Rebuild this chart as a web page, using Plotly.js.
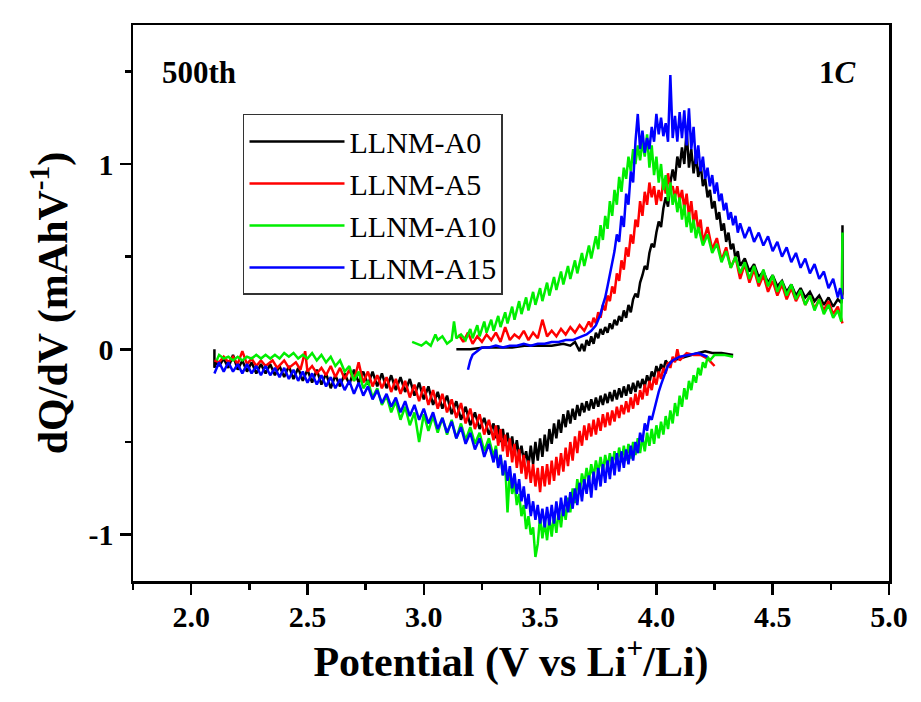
<!DOCTYPE html>
<html>
<head>
<meta charset="utf-8">
<script src="https://cdn.plot.ly/plotly-3.0.1.min.js"></script>
<style>html,body{margin:0;padding:0;background:#fff;}#chart{width:921px;height:702px;}</style>
</head>
<body>
<div id="chart"></div>
<script>
// Series names and colours
const seriesNames = ["LLNM-A0", "LLNM-A5", "LLNM-A10", "LLNM-A15"];
const seriesColors = ["#000000", "#ff0000", "#00ee00", "#0000ff"];

// [potential V, dQ/dV] — charge branch (upper) and discharge branch (lower)
const a0Charge = [[3.14,0.00],[3.20,0.00],[3.26,0.01],[3.32,0.01],[3.38,0.01],[3.44,0.02],[3.50,0.02],[3.55,0.02],[3.60,0.03],[3.63,0.02],[3.65,0.04],[3.67,-0.01],[3.68,0.03],[3.69,-0.01],[3.70,0.05],[3.71,0.02],[3.72,0.07],[3.73,0.03],[3.74,0.09],[3.75,0.06],[3.76,0.11],[3.77,0.08],[3.78,0.12],[3.79,0.09],[3.80,0.14],[3.81,0.11],[3.82,0.16],[3.83,0.13],[3.84,0.18],[3.85,0.15],[3.86,0.21],[3.87,0.17],[3.88,0.24],[3.89,0.20],[3.90,0.27],[3.91,0.30],[3.92,0.28],[3.93,0.36],[3.94,0.40],[3.95,0.45],[3.96,0.43],[3.97,0.52],[3.98,0.57],[3.99,0.55],[4.00,0.63],[4.01,0.69],[4.02,0.66],[4.03,0.76],[4.04,0.82],[4.05,0.77],[4.06,0.90],[4.07,0.97],[4.08,0.91],[4.09,1.04],[4.10,0.98],[4.11,1.09],[4.12,1.00],[4.13,1.18],[4.14,0.98],[4.15,1.08],[4.16,0.95],[4.17,1.05],[4.18,0.93],[4.19,1.00],[4.20,0.88],[4.21,0.92],[4.22,0.82],[4.23,0.86],[4.24,0.76],[4.25,0.80],[4.26,0.70],[4.27,0.74],[4.28,0.64],[4.29,0.68],[4.30,0.58],[4.31,0.63],[4.32,0.54],[4.33,0.57],[4.34,0.49],[4.35,0.53],[4.36,0.45],[4.38,0.49],[4.40,0.42],[4.42,0.46],[4.44,0.39],[4.46,0.42],[4.48,0.36],[4.50,0.40],[4.52,0.34],[4.54,0.37],[4.56,0.31],[4.58,0.35],[4.60,0.29],[4.62,0.33],[4.64,0.28],[4.66,0.31],[4.68,0.26],[4.70,0.29],[4.72,0.24],[4.74,0.28],[4.76,0.23],[4.78,0.27],[4.795,0.25],[4.80,0.30],[4.80,0.67]];
const a0Discharge = [[4.33,-0.03],[4.28,-0.02],[4.24,-0.02],[4.21,-0.01],[4.18,-0.02],[4.15,-0.03],[4.12,-0.04],[4.09,-0.05],[4.07,-0.06],[4.05,-0.08],[4.04,-0.06],[4.03,-0.11],[4.02,-0.08],[4.01,-0.13],[4.00,-0.09],[3.99,-0.15],[3.98,-0.12],[3.97,-0.18],[3.96,-0.14],[3.95,-0.20],[3.94,-0.16],[3.93,-0.21],[3.92,-0.17],[3.91,-0.23],[3.90,-0.18],[3.89,-0.24],[3.88,-0.19],[3.87,-0.25],[3.86,-0.20],[3.85,-0.26],[3.84,-0.21],[3.83,-0.27],[3.82,-0.22],[3.81,-0.28],[3.80,-0.23],[3.79,-0.29],[3.78,-0.24],[3.77,-0.30],[3.76,-0.25],[3.75,-0.31],[3.74,-0.26],[3.73,-0.32],[3.72,-0.27],[3.71,-0.33],[3.70,-0.28],[3.69,-0.34],[3.68,-0.29],[3.67,-0.36],[3.66,-0.30],[3.65,-0.38],[3.64,-0.32],[3.63,-0.40],[3.62,-0.33],[3.61,-0.42],[3.60,-0.35],[3.59,-0.45],[3.58,-0.38],[3.57,-0.48],[3.56,-0.40],[3.55,-0.51],[3.54,-0.43],[3.53,-0.55],[3.52,-0.46],[3.51,-0.58],[3.50,-0.48],[3.49,-0.60],[3.48,-0.50],[3.47,-0.62],[3.46,-0.52],[3.45,-0.63],[3.44,-0.55],[3.43,-0.60],[3.42,-0.52],[3.41,-0.58],[3.40,-0.49],[3.39,-0.57],[3.38,-0.47],[3.37,-0.54],[3.36,-0.45],[3.35,-0.52],[3.34,-0.43],[3.33,-0.50],[3.32,-0.41],[3.31,-0.48],[3.30,-0.40],[3.28,-0.46],[3.26,-0.37],[3.24,-0.43],[3.22,-0.34],[3.20,-0.41],[3.18,-0.31],[3.16,-0.38],[3.14,-0.28],[3.12,-0.35],[3.10,-0.25],[3.08,-0.32],[3.06,-0.23],[3.04,-0.30],[3.02,-0.20],[3.00,-0.27],[2.98,-0.18],[2.96,-0.25],[2.94,-0.16],[2.92,-0.23],[2.90,-0.15],[2.88,-0.22],[2.86,-0.14],[2.84,-0.21],[2.82,-0.13],[2.80,-0.20],[2.78,-0.12],[2.76,-0.19],[2.74,-0.12],[2.72,-0.18],[2.70,-0.11],[2.68,-0.19],[2.66,-0.13],[2.64,-0.20],[2.62,-0.14],[2.60,-0.21],[2.58,-0.13],[2.56,-0.19],[2.54,-0.11],[2.52,-0.18],[2.50,-0.11],[2.48,-0.17],[2.46,-0.10],[2.44,-0.16],[2.42,-0.09],[2.40,-0.15],[2.38,-0.09],[2.36,-0.14],[2.34,-0.08],[2.32,-0.13],[2.30,-0.08],[2.28,-0.13],[2.26,-0.07],[2.24,-0.12],[2.22,-0.06],[2.20,-0.11],[2.18,-0.03],[2.16,-0.10],[2.14,-0.05],[2.12,-0.09],[2.11,-0.06],[2.10,-0.10],[2.10,0.00]];

const a5Charge = [[3.15,0.08],[3.17,0.04],[3.19,0.09],[3.21,0.03],[3.23,0.07],[3.25,0.04],[3.27,0.08],[3.29,0.05],[3.31,0.09],[3.33,0.04],[3.35,0.12],[3.37,0.05],[3.39,0.08],[3.41,0.06],[3.43,0.10],[3.45,0.05],[3.47,0.09],[3.49,0.06],[3.51,0.16],[3.53,0.07],[3.55,0.10],[3.57,0.07],[3.59,0.11],[3.61,0.08],[3.63,0.12],[3.65,0.09],[3.67,0.13],[3.69,0.10],[3.71,0.15],[3.72,0.12],[3.73,0.17],[3.74,0.14],[3.75,0.20],[3.76,0.17],[3.77,0.24],[3.78,0.21],[3.79,0.29],[3.80,0.26],[3.81,0.34],[3.82,0.30],[3.83,0.41],[3.84,0.37],[3.85,0.48],[3.86,0.43],[3.87,0.55],[3.88,0.50],[3.89,0.62],[3.90,0.57],[3.91,0.70],[3.92,0.66],[3.93,0.80],[3.94,0.72],[3.95,0.85],[3.96,0.78],[3.97,0.90],[3.98,0.82],[3.99,0.88],[4.00,0.78],[4.01,0.86],[4.02,0.80],[4.03,0.92],[4.04,0.84],[4.05,0.95],[4.06,0.86],[4.07,0.88],[4.08,0.82],[4.09,0.88],[4.10,0.80],[4.11,0.86],[4.12,0.76],[4.13,0.84],[4.14,0.72],[4.15,0.80],[4.16,0.68],[4.17,0.75],[4.18,0.64],[4.19,0.70],[4.20,0.58],[4.22,0.66],[4.24,0.54],[4.26,0.60],[4.28,0.48],[4.30,0.55],[4.32,0.44],[4.34,0.50],[4.36,0.38],[4.38,0.46],[4.40,0.36],[4.42,0.43],[4.44,0.34],[4.46,0.40],[4.48,0.31],[4.50,0.37],[4.52,0.29],[4.54,0.35],[4.56,0.27],[4.58,0.33],[4.60,0.26],[4.62,0.31],[4.64,0.24],[4.66,0.29],[4.68,0.22],[4.70,0.27],[4.72,0.21],[4.74,0.26],[4.76,0.19],[4.78,0.23],[4.80,0.14]];
const a5Discharge = [[4.25,-0.09],[4.22,-0.05],[4.19,-0.03],[4.16,-0.03],[4.13,-0.02],[4.10,-0.06],[4.09,0.00],[4.08,-0.07],[4.07,-0.04],[4.06,-0.10],[4.05,-0.07],[4.04,-0.13],[4.03,-0.10],[4.02,-0.16],[4.01,-0.12],[4.00,-0.19],[3.99,-0.15],[3.98,-0.22],[3.97,-0.17],[3.96,-0.25],[3.95,-0.19],[3.94,-0.27],[3.93,-0.22],[3.92,-0.30],[3.91,-0.24],[3.90,-0.32],[3.89,-0.26],[3.88,-0.34],[3.87,-0.28],[3.86,-0.35],[3.85,-0.30],[3.84,-0.37],[3.83,-0.31],[3.82,-0.39],[3.81,-0.33],[3.80,-0.41],[3.79,-0.34],[3.78,-0.42],[3.77,-0.35],[3.76,-0.44],[3.75,-0.37],[3.74,-0.46],[3.73,-0.38],[3.72,-0.47],[3.71,-0.40],[3.70,-0.49],[3.69,-0.41],[3.68,-0.52],[3.67,-0.44],[3.66,-0.56],[3.65,-0.47],[3.64,-0.60],[3.63,-0.50],[3.62,-0.63],[3.61,-0.53],[3.60,-0.66],[3.59,-0.56],[3.58,-0.68],[3.57,-0.58],[3.56,-0.71],[3.55,-0.60],[3.54,-0.73],[3.53,-0.62],[3.52,-0.74],[3.51,-0.63],[3.50,-0.77],[3.49,-0.64],[3.48,-0.74],[3.47,-0.62],[3.46,-0.72],[3.45,-0.60],[3.44,-0.70],[3.43,-0.57],[3.42,-0.67],[3.41,-0.54],[3.40,-0.64],[3.39,-0.51],[3.38,-0.61],[3.37,-0.48],[3.36,-0.58],[3.35,-0.46],[3.34,-0.55],[3.33,-0.43],[3.32,-0.52],[3.31,-0.41],[3.30,-0.49],[3.28,-0.38],[3.26,-0.46],[3.24,-0.35],[3.22,-0.43],[3.20,-0.32],[3.18,-0.40],[3.16,-0.29],[3.14,-0.37],[3.12,-0.27],[3.10,-0.34],[3.08,-0.24],[3.06,-0.32],[3.04,-0.22],[3.02,-0.30],[3.00,-0.20],[2.98,-0.28],[2.96,-0.19],[2.94,-0.26],[2.92,-0.17],[2.90,-0.24],[2.88,-0.16],[2.86,-0.23],[2.84,-0.15],[2.82,-0.21],[2.80,-0.14],[2.78,-0.20],[2.76,-0.12],[2.74,-0.18],[2.72,-0.07],[2.70,-0.17],[2.68,-0.11],[2.66,-0.16],[2.64,-0.10],[2.62,-0.15],[2.60,-0.09],[2.58,-0.14],[2.56,-0.10],[2.54,-0.13],[2.52,-0.09],[2.50,-0.12],[2.49,-0.01],[2.47,-0.11],[2.45,-0.07],[2.42,-0.10],[2.40,-0.06],[2.37,-0.10],[2.35,-0.06],[2.32,-0.09],[2.30,-0.06],[2.28,-0.09],[2.26,-0.05],[2.24,-0.08],[2.22,-0.01],[2.20,-0.08],[2.18,-0.04],[2.16,-0.07],[2.14,-0.04],[2.12,-0.07],[2.10,-0.06]];

const a10Charge = [[2.95,0.04],[2.97,0.03],[2.99,0.02],[3.01,0.04],[3.03,0.02],[3.05,0.08],[3.06,0.05],[3.08,0.07],[3.10,0.03],[3.12,0.05],[3.13,0.15],[3.14,0.06],[3.16,0.08],[3.18,0.05],[3.20,0.11],[3.21,0.06],[3.23,0.13],[3.24,0.07],[3.26,0.15],[3.27,0.09],[3.29,0.16],[3.30,0.10],[3.32,0.18],[3.33,0.12],[3.35,0.20],[3.36,0.14],[3.38,0.23],[3.39,0.16],[3.41,0.26],[3.42,0.19],[3.44,0.28],[3.45,0.21],[3.47,0.31],[3.48,0.24],[3.50,0.33],[3.51,0.26],[3.53,0.36],[3.54,0.29],[3.56,0.39],[3.57,0.32],[3.59,0.42],[3.60,0.35],[3.62,0.45],[3.63,0.38],[3.65,0.48],[3.66,0.41],[3.68,0.52],[3.69,0.45],[3.71,0.56],[3.72,0.49],[3.74,0.61],[3.75,0.54],[3.76,0.67],[3.77,0.59],[3.78,0.72],[3.79,0.65],[3.80,0.80],[3.81,0.72],[3.82,0.86],[3.83,0.78],[3.84,0.93],[3.85,0.85],[3.86,0.98],[3.87,0.92],[3.88,1.04],[3.89,0.96],[3.90,1.08],[3.91,1.00],[3.92,1.10],[3.93,1.02],[3.94,1.12],[3.95,1.04],[3.96,1.16],[3.97,0.98],[3.98,1.10],[3.99,0.94],[4.00,1.04],[4.01,0.90],[4.02,1.00],[4.03,0.86],[4.04,0.94],[4.05,0.80],[4.06,0.90],[4.07,0.78],[4.08,0.84],[4.09,0.74],[4.10,0.82],[4.11,0.70],[4.12,0.78],[4.13,0.66],[4.14,0.74],[4.15,0.63],[4.16,0.70],[4.17,0.60],[4.18,0.66],[4.20,0.56],[4.22,0.62],[4.24,0.52],[4.26,0.57],[4.28,0.47],[4.30,0.53],[4.32,0.44],[4.34,0.50],[4.36,0.41],[4.38,0.47],[4.40,0.38],[4.42,0.45],[4.44,0.36],[4.46,0.43],[4.48,0.34],[4.50,0.40],[4.52,0.31],[4.54,0.37],[4.56,0.29],[4.58,0.35],[4.60,0.27],[4.62,0.32],[4.64,0.24],[4.66,0.29],[4.68,0.21],[4.70,0.27],[4.72,0.19],[4.74,0.24],[4.76,0.17],[4.78,0.21],[4.795,0.15],[4.80,0.63]];
const a10Discharge = [[4.33,-0.04],[4.29,-0.03],[4.25,-0.03],[4.23,-0.06],[4.22,-0.04],[4.21,-0.10],[4.20,-0.07],[4.19,-0.14],[4.18,-0.10],[4.17,-0.18],[4.16,-0.14],[4.15,-0.22],[4.14,-0.17],[4.13,-0.27],[4.12,-0.21],[4.11,-0.31],[4.10,-0.25],[4.09,-0.36],[4.08,-0.29],[4.07,-0.40],[4.06,-0.33],[4.05,-0.43],[4.04,-0.36],[4.03,-0.46],[4.02,-0.39],[4.01,-0.48],[4.00,-0.41],[3.99,-0.51],[3.98,-0.43],[3.97,-0.52],[3.96,-0.45],[3.95,-0.55],[3.94,-0.47],[3.93,-0.56],[3.92,-0.48],[3.91,-0.57],[3.90,-0.50],[3.89,-0.59],[3.88,-0.51],[3.87,-0.60],[3.86,-0.52],[3.85,-0.61],[3.84,-0.53],[3.83,-0.62],[3.82,-0.55],[3.81,-0.63],[3.80,-0.56],[3.79,-0.64],[3.78,-0.57],[3.77,-0.66],[3.76,-0.58],[3.75,-0.67],[3.74,-0.60],[3.73,-0.69],[3.72,-0.62],[3.71,-0.71],[3.70,-0.64],[3.69,-0.73],[3.68,-0.67],[3.67,-0.78],[3.66,-0.70],[3.65,-0.83],[3.64,-0.75],[3.63,-0.88],[3.62,-0.80],[3.61,-0.92],[3.60,-0.84],[3.59,-0.96],[3.58,-0.87],[3.57,-0.99],[3.56,-0.89],[3.55,-1.01],[3.54,-0.91],[3.53,-1.03],[3.52,-0.93],[3.51,-1.02],[3.50,-0.90],[3.49,-1.05],[3.48,-1.12],[3.47,-0.96],[3.46,-1.00],[3.45,-0.90],[3.44,-0.97],[3.43,-0.84],[3.42,-0.90],[3.41,-0.78],[3.40,-0.84],[3.39,-0.72],[3.38,-0.78],[3.37,-0.66],[3.36,-0.88],[3.35,-0.62],[3.34,-0.68],[3.33,-0.57],[3.32,-0.63],[3.31,-0.52],[3.30,-0.58],[3.28,-0.48],[3.26,-0.55],[3.24,-0.45],[3.22,-0.51],[3.20,-0.42],[3.18,-0.49],[3.16,-0.40],[3.14,-0.48],[3.12,-0.38],[3.10,-0.46],[3.08,-0.37],[3.06,-0.45],[3.04,-0.36],[3.02,-0.44],[3.00,-0.35],[2.98,-0.50],[2.96,-0.34],[2.94,-0.41],[2.92,-0.31],[2.90,-0.38],[2.88,-0.28],[2.86,-0.34],[2.84,-0.25],[2.82,-0.30],[2.80,-0.21],[2.78,-0.26],[2.76,-0.17],[2.74,-0.21],[2.72,-0.12],[2.70,-0.17],[2.68,-0.09],[2.66,-0.12],[2.64,-0.06],[2.62,-0.09],[2.60,-0.04],[2.58,-0.07],[2.56,-0.03],[2.54,-0.06],[2.52,-0.02],[2.50,-0.05],[2.48,-0.03],[2.46,-0.05],[2.44,-0.02],[2.42,-0.04],[2.40,-0.02],[2.38,-0.05],[2.36,-0.03],[2.34,-0.05],[2.32,-0.03],[2.30,-0.05],[2.28,-0.03],[2.26,-0.05],[2.24,-0.04],[2.22,-0.06],[2.20,-0.04],[2.18,-0.06],[2.16,-0.04],[2.14,-0.05],[2.12,-0.03],[2.11,-0.06]];

const a15Charge = [[3.19,-0.11],[3.20,-0.06],[3.21,-0.03],[3.23,-0.01],[3.25,0.01],[3.28,0.01],[3.31,0.02],[3.34,0.01],[3.37,0.02],[3.40,0.02],[3.43,0.03],[3.46,0.02],[3.49,0.03],[3.52,0.03],[3.55,0.04],[3.58,0.04],[3.61,0.05],[3.64,0.05],[3.66,0.06],[3.68,0.07],[3.70,0.08],[3.72,0.10],[3.74,0.13],[3.75,0.16],[3.76,0.19],[3.77,0.24],[3.78,0.28],[3.79,0.34],[3.80,0.40],[3.81,0.47],[3.82,0.53],[3.83,0.62],[3.84,0.58],[3.85,0.72],[3.86,0.66],[3.87,0.84],[3.88,0.78],[3.89,0.96],[3.90,0.90],[3.91,1.12],[3.92,1.27],[3.93,1.08],[3.94,1.18],[3.95,1.06],[3.96,1.14],[3.97,1.08],[3.98,1.20],[3.99,1.12],[4.00,1.27],[4.01,1.16],[4.02,1.25],[4.03,1.15],[4.04,1.22],[4.05,1.12],[4.06,1.48],[4.07,1.14],[4.08,1.26],[4.09,1.12],[4.10,1.28],[4.11,1.14],[4.12,1.29],[4.13,1.10],[4.14,1.30],[4.15,1.08],[4.16,1.20],[4.17,1.00],[4.18,1.10],[4.19,0.96],[4.20,1.04],[4.21,0.92],[4.22,0.98],[4.23,0.88],[4.24,0.94],[4.25,0.84],[4.26,0.90],[4.27,0.80],[4.28,0.84],[4.29,0.75],[4.30,0.79],[4.31,0.70],[4.32,0.74],[4.33,0.67],[4.34,0.72],[4.35,0.63],[4.36,0.68],[4.38,0.60],[4.40,0.66],[4.42,0.58],[4.44,0.63],[4.46,0.56],[4.48,0.61],[4.50,0.53],[4.52,0.58],[4.54,0.50],[4.56,0.55],[4.58,0.47],[4.60,0.52],[4.62,0.44],[4.64,0.49],[4.66,0.41],[4.68,0.46],[4.70,0.38],[4.72,0.42],[4.74,0.33],[4.76,0.38],[4.78,0.28],[4.79,0.33],[4.80,0.27]];
const a15Discharge = [[4.22,-0.04],[4.18,-0.02],[4.14,-0.03],[4.10,-0.04],[4.07,-0.06],[4.05,-0.09],[4.04,-0.12],[4.03,-0.15],[4.02,-0.19],[4.01,-0.23],[4.00,-0.28],[3.99,-0.32],[3.98,-0.38],[3.97,-0.36],[3.96,-0.44],[3.95,-0.40],[3.94,-0.50],[3.93,-0.45],[3.92,-0.56],[3.91,-0.50],[3.90,-0.60],[3.89,-0.52],[3.88,-0.62],[3.87,-0.54],[3.86,-0.64],[3.85,-0.55],[3.84,-0.66],[3.83,-0.56],[3.82,-0.68],[3.81,-0.58],[3.80,-0.70],[3.79,-0.60],[3.78,-0.72],[3.77,-0.62],[3.76,-0.74],[3.75,-0.64],[3.74,-0.76],[3.73,-0.66],[3.72,-0.80],[3.71,-0.68],[3.70,-0.78],[3.69,-0.70],[3.68,-0.82],[3.67,-0.72],[3.66,-0.84],[3.65,-0.75],[3.64,-0.86],[3.63,-0.77],[3.62,-0.88],[3.61,-0.79],[3.60,-0.90],[3.59,-0.80],[3.58,-0.92],[3.57,-0.82],[3.56,-0.94],[3.55,-0.84],[3.54,-0.95],[3.53,-0.85],[3.52,-0.96],[3.51,-0.86],[3.50,-0.94],[3.49,-0.84],[3.48,-0.92],[3.47,-0.82],[3.46,-0.90],[3.45,-0.78],[3.44,-0.86],[3.43,-0.74],[3.42,-0.82],[3.41,-0.70],[3.40,-0.78],[3.39,-0.67],[3.38,-0.75],[3.37,-0.63],[3.36,-0.71],[3.35,-0.60],[3.34,-0.68],[3.33,-0.57],[3.32,-0.64],[3.31,-0.54],[3.30,-0.61],[3.28,-0.51],[3.26,-0.58],[3.24,-0.48],[3.22,-0.54],[3.20,-0.45],[3.18,-0.51],[3.16,-0.42],[3.14,-0.48],[3.12,-0.39],[3.10,-0.45],[3.08,-0.37],[3.06,-0.43],[3.04,-0.34],[3.02,-0.40],[3.00,-0.32],[2.98,-0.38],[2.96,-0.30],[2.94,-0.36],[2.92,-0.28],[2.90,-0.34],[2.88,-0.26],[2.86,-0.31],[2.84,-0.24],[2.82,-0.29],[2.80,-0.22],[2.78,-0.27],[2.76,-0.20],[2.74,-0.25],[2.72,-0.18],[2.70,-0.24],[2.68,-0.17],[2.66,-0.22],[2.64,-0.16],[2.62,-0.21],[2.60,-0.15],[2.58,-0.20],[2.56,-0.14],[2.54,-0.19],[2.52,-0.13],[2.50,-0.18],[2.48,-0.12],[2.46,-0.17],[2.44,-0.11],[2.42,-0.16],[2.40,-0.10],[2.38,-0.15],[2.36,-0.10],[2.34,-0.14],[2.32,-0.09],[2.30,-0.14],[2.28,-0.09],[2.26,-0.13],[2.24,-0.08],[2.22,-0.13],[2.20,-0.08],[2.18,-0.12],[2.16,-0.07],[2.14,-0.12],[2.12,-0.07],[2.10,-0.13]];

const xTickVals = [2.0, 2.5, 3.0, 3.5, 4.0, 4.5, 5.0];
const yTickVals = [-1, 0, 1];

const branches = [[a0Charge, a0Discharge],[a5Charge, a5Discharge],[a10Charge, a10Discharge],[a15Charge, a15Discharge]];

const traces = branches.map((b, i) => {
  const x = [], y = [];
  b[0].forEach(p => { x.push(p[0]); y.push(p[1]); });
  x.push(null); y.push(null);
  b[1].forEach(p => { x.push(p[0]); y.push(p[1]); });
  return {
    x: x, y: y, type: 'scatter', mode: 'lines', name: seriesNames[i],
    connectgaps: false,
    line: {color: seriesColors[i], width: 2.5}
  };
});

const serif = "Liberation Serif, Times New Roman, serif";

const layout = {
  width: 921, height: 702,
  paper_bgcolor: '#ffffff', plot_bgcolor: '#ffffff',
  margin: {l: 133, r: 32, t: 25, b: 121},
  font: {family: serif, color: '#000'},
  showlegend: true,
  legend: {
    x: 0.1455, y: 0.84, xanchor: 'left', yanchor: 'top',
    bgcolor: '#ffffff', bordercolor: '#333333', borderwidth: 1.5,
    font: {family: serif, size: 30, color: '#000'},
    tracegroupgap: 0, itemwidth: 95
  },
  xaxis: {
    range: [1.75, 5.0], tickvals: xTickVals, ticktext: xTickVals.map(v => v.toFixed(1)),
    ticks: 'outside', ticklen: 11, tickwidth: 2.5, tickcolor: '#000',
    minor: {dtick: 0.25, tick0: 1.75, ticks: 'outside', ticklen: 6, tickwidth: 2.5, tickcolor: '#000'},
    showline: true, linewidth: 2.5, linecolor: '#000', mirror: true,
    showgrid: false, zeroline: false, ticklabelstandoff: -4,
    tickfont: {family: serif, size: 30, color: '#000', weight: 'bold'},
    title: {text: 'Potential (V vs Li<sup>+</sup>/Li)', font: {family: serif, size: 42, color: '#000', weight: 'bold'}, standoff: 8}
  },
  yaxis: {
    range: [-1.25, 1.75], tickvals: yTickVals, ticktext: yTickVals.map(v => String(v)),
    ticks: 'outside', ticklen: 11, tickwidth: 2.5, tickcolor: '#000',
    minor: {dtick: 0.5, tick0: -1.0, ticks: 'outside', ticklen: 6, tickwidth: 2.5, tickcolor: '#000'},
    showline: true, linewidth: 2.5, linecolor: '#000', mirror: true,
    showgrid: false, zeroline: false,
    tickfont: {family: serif, size: 30, color: '#000', weight: 'bold'},
    title: {text: 'dQ/dV (mAhV<sup>-1</sup>)', font: {family: serif, size: 42, color: '#000', weight: 'bold'}, standoff: 8}
  },
  annotations: [
    {xref: 'paper', yref: 'paper', x: 0.036, y: 0.915, xanchor: 'left', yanchor: 'middle', showarrow: false,
     text: '<b>500th</b>', font: {family: serif, size: 31, color: '#000'}},
    {xref: 'paper', yref: 'paper', x: 0.959, y: 0.915, xanchor: 'right', yanchor: 'middle', showarrow: false,
     text: '<b>1<i>C</i></b>', font: {family: serif, size: 31, color: '#000'}}
  ]
};

Plotly.newPlot('chart', traces, layout, {displayModeBar: false, staticPlot: true});
</script>
</body>
</html>
